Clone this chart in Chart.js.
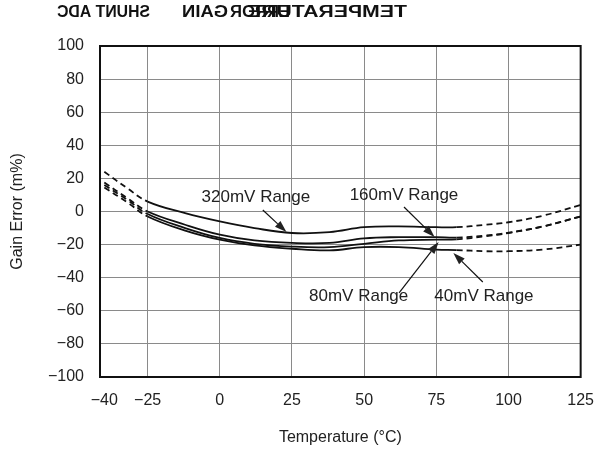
<!DOCTYPE html>
<html>
<head>
<meta charset="utf-8">
<script src="https://cdn.jsdelivr.net/npm/chart.js@4.4.0/dist/chart.umd.min.js"></script>
<style>
  html, body { margin: 0; padding: 0; background: #fff; }
  #wrap { width: 608px; height: 451px; }
</style>
</head>
<body>
<div id="wrap"><canvas id="chart" width="608" height="451"></canvas></div>
<script>
// temperature points (°C) and gain error (m%) for each range
const temps    = [-40, -32, -25, -12,   0,    12,    25,    38,    50,    62,    75,    82,    92,   100,   112,  125];
const range320 = [ 24,  14,   6,  -1,  -6,   -10,   -13, -12.5,  -9.5,    -9,  -9.5,  -9.5,    -8,  -6.5,  -2.5,    4];
const range160 = [17.5,  8,   0,  -8, -14, -17.5,   -19,   -19, -16.2, -15.5, -15.5, -15.8, -14.5, -12.8,    -9,   -3];
const range80  = [ 16,   7, -1.5, -10, -16, -19.5, -21.2, -21.5, -19.5, -17.5,   -17, -16.8,   -15,   -13,    -9,   -3];
const range40  = [14.5, 5.5, -3, -11.5, -17, -20.5, -22.5, -23.5, -21.5, -21.5,   -23, -23.3,   -24,   -24,   -23,  -20];

const seriesNames = ["320mV Range", "160mV Range", "80mV Range", "40mV Range"];
const xTicks = [-40, -25, 0, 25, 50, 75, 100, 125];
const solidFrom = -25;
const solidTo = 82;

const FONT = "'Liberation Sans', Arial, Helvetica, sans-serif";
const TEXT = "#222";
const GRID = "#8a8a8a";

// callouts: label text at (t, v) and an arrow from (t, v) to (t, v), in data units
const callouts = [
  { text: seriesNames[0], at: [12.5, 8.8],  from: [14.9, 0.9],   to: [23.1, -12.4] },
  { text: seriesNames[1], at: [63.8, 10],   from: [63.8, 2.7],   to: [74.4, -15.4] },
  { text: seriesNames[2], at: [48.1, -51],  from: [62.1, -49.2], to: [75.8, -18.4] },
  { text: seriesNames[3], at: [91.5, -51],  from: [91.1, -42.6], to: [80.9, -25] }
];

const minus = v => (v < 0 ? "\u2212" + Math.abs(v) : String(v));

function toPoints(vals) {
  return temps.map((t, i) => ({ x: t, y: vals[i] }));
}

function makeSet(label, vals) {
  return {
    label: label,
    data: toPoints(vals),
    borderColor: "#111",
    borderWidth: 1.8,
    pointRadius: 0,
    fill: false,
    tension: 0.4,
    segment: {
      borderDash: ctx => (ctx.p1.parsed.x <= solidFrom || ctx.p0.parsed.x >= solidTo) ? [6, 4] : undefined
    }
  };
}

// title is printed mirrored in the source figure
const titleParts = [
  { text: "SHUNT ADC",   right: 150, width: 93 },
  { text: "GAIN",        right: 228, width: 46 },
  { text: "ERROR",       right: 290, width: 60 },
  { text: "TEMPERATURE", right: 407, width: 160 }
];

const decor = {
  id: "decor",
  afterDraw(chart) {
    const ctx = chart.ctx;
    const a = chart.chartArea;
    const xs = chart.scales.x, ys = chart.scales.y;

    // frame
    ctx.save();
    ctx.strokeStyle = "#111";
    ctx.lineWidth = 2;
    ctx.strokeRect(a.left, a.top, a.right - a.left, a.bottom - a.top);
    ctx.restore();

    // callouts
    ctx.save();
    ctx.fillStyle = TEXT;
    ctx.strokeStyle = "#111";
    ctx.font = "17px " + FONT;
    ctx.textAlign = "center";
    ctx.textBaseline = "middle";
    callouts.forEach(c => {
      ctx.fillText(c.text, xs.getPixelForValue(c.at[0]), ys.getPixelForValue(c.at[1]));
      const x0 = xs.getPixelForValue(c.from[0]), y0 = ys.getPixelForValue(c.from[1]);
      const x1 = xs.getPixelForValue(c.to[0]), y1 = ys.getPixelForValue(c.to[1]);
      const ang = Math.atan2(y1 - y0, x1 - x0);
      const len = 12, half = 4;
      ctx.lineWidth = 1.2;
      ctx.beginPath();
      ctx.moveTo(x0, y0);
      ctx.lineTo(x1 - Math.cos(ang) * len, y1 - Math.sin(ang) * len);
      ctx.stroke();
      ctx.beginPath();
      ctx.moveTo(x1, y1);
      ctx.lineTo(x1 - Math.cos(ang) * len - Math.sin(ang) * half, y1 - Math.sin(ang) * len + Math.cos(ang) * half);
      ctx.lineTo(x1 - Math.cos(ang) * len + Math.sin(ang) * half, y1 - Math.sin(ang) * len - Math.cos(ang) * half);
      ctx.closePath();
      ctx.fill();
    });
    ctx.restore();

    // mirrored title
    ctx.save();
    ctx.fillStyle = "#111";
    ctx.font = "bold 16px " + FONT;
    titleParts.forEach(p => {
      const w = ctx.measureText(p.text).width;
      ctx.save();
      ctx.translate(p.right, 13);
      ctx.scale(-p.width / w, 1);
      ctx.textAlign = "left";
      ctx.textBaseline = "middle";
      ctx.fillText(p.text, 0, 0);
      ctx.restore();
    });
    ctx.restore();
  }
};

new Chart(document.getElementById("chart"), {
  type: "line",
  data: {
    datasets: [
      makeSet(seriesNames[0], range320),
      makeSet(seriesNames[1], range160),
      makeSet(seriesNames[2], range80),
      makeSet(seriesNames[3], range40)
    ]
  },
  options: {
    responsive: false,
    animation: false,
    devicePixelRatio: 1,
    layout: { padding: { top: 46, right: 21, left: 0, bottom: 0 } },
    plugins: { legend: { display: false }, tooltip: { enabled: false } },
    scales: {
      x: {
        type: "linear",
        min: -41.5,
        max: 125,
        afterBuildTicks: s => { s.ticks = xTicks.map(v => ({ value: v })); },
        afterFit: s => { s.height = 74; },
        border: { display: false },
        grid: {
          color: c => (c.tick && c.tick.value === -40 ? "rgba(0,0,0,0)" : GRID),
          lineWidth: 1,
          drawTicks: false
        },
        ticks: {
          autoSkip: false,
          maxRotation: 0,
          padding: 14,
          color: TEXT,
          font: { family: FONT, size: 16 },
          callback: v => minus(v)
        },
        title: {
          display: true,
          text: "Temperature (°C)",
          color: TEXT,
          font: { family: FONT, size: 16 },
          padding: { top: 4, bottom: 4 }
        }
      },
      y: {
        min: -100,
        max: 100,
        afterFit: s => { s.width = 100; },
        border: { display: false },
        grid: { color: GRID, lineWidth: 1, drawTicks: false },
        ticks: {
          stepSize: 20,
          padding: 16,
          color: TEXT,
          font: { family: FONT, size: 16 },
          callback: v => minus(v)
        },
        title: {
          display: true,
          text: "Gain Error (m%)",
          color: TEXT,
          font: { family: FONT, size: 16 },
          padding: { top: 8, bottom: 0 }
        }
      }
    }
  },
  plugins: [decor]
});
</script>
</body>
</html>
